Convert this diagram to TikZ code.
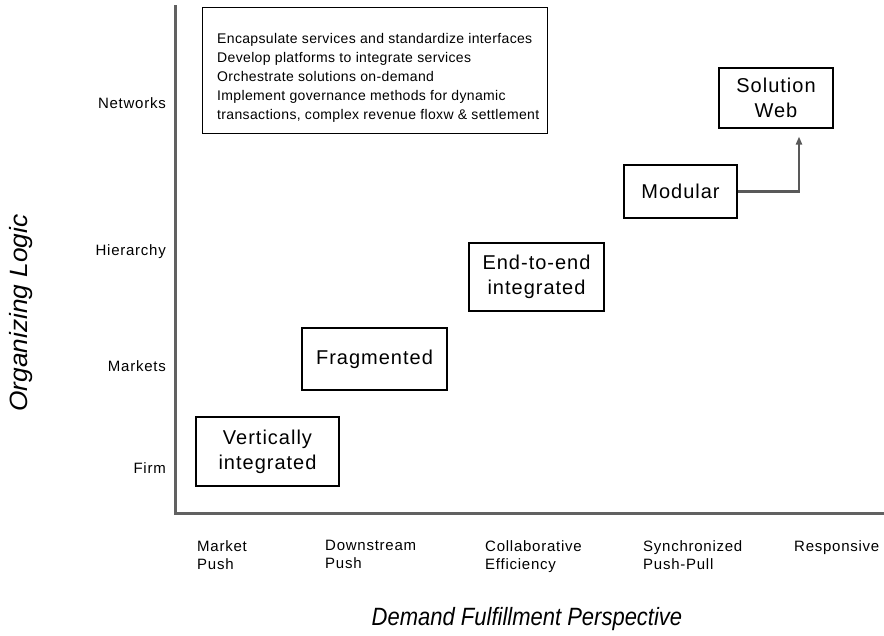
\documentclass[tikz,border=0pt]{standalone}
\usepackage{fontspec}
\setmainfont{Liberation Sans}[LetterSpace=5]
\newfontfamily\titlefont{Liberation Sans}
\newfontfamily\listfont{Liberation Sans}[LetterSpace=2.5]
\usetikzlibrary{arrows.meta, positioning}

\begin{document}
\begin{tikzpicture}[
    x=1pt, y=-1pt,
    stage/.style={rectangle, draw=black, line width=1.1pt, text centered, align=center, font=\fontsize{20}{25}\selectfont},
    tick/.style={inner sep=0pt, font=\fontsize{15}{18}\selectfont},
    xtick/.style={tick, anchor=north west, align=left},
    ytick/.style={tick, anchor=base east},
    axistitle/.style={inner sep=0pt, font=\titlefont\itshape\fontsize{25}{30}\selectfont},
    axis/.style={line width=3pt, draw=black!62},
    arrow/.style={-{Triangle[length=8pt,width=6pt]}, line width=2.5pt, draw=black!65}
]
\useasboundingbox (0,0) rectangle (884,635);

% Axes
\coordinate (top) at (175,5);
\coordinate (origin) at (175,513);
\coordinate (right) at (884,513);
\draw[axis] (top) -- (origin) -- (right);

% Organizing logic (y axis)
\node[ytick] (networks) at (166,108) {Networks};
\node[ytick] (hierarchy) at (166,255) {Hierarchy};
\node[ytick] (markets) at (166,371) {Markets};
\node[ytick] (firm) at (166,473) {Firm};
\node[axistitle, rotate=90] (ylabel) at (21,313) {\scalebox{1.05}[1]{Organizing Logic}};

% Demand fulfillment (x axis)
\node[xtick] (marketpush) at (197,540) {Market\\Push};
\node[xtick] (downstream) at (325,540) {Downstream\\Push};
\node[xtick] (collab) at (485,540) {Collaborative\\Efficiency};
\node[xtick] (sync) at (643,540) {Synchronized\\Push-Pull};
\node[xtick] (responsive) at (794,540) {Responsive};
\node[axistitle, anchor=base] (xlabel) at (527,625) {\scalebox{0.88}[1]{Demand Fulfillment Perspective}};

% Capabilities box
\node[rectangle, draw=black, line width=1.1pt, minimum width=345pt, minimum height=126pt, anchor=north west] (capbox) at (202,7) {};
\node[anchor=north west, align=left, inner sep=0pt, font=\listfont\fontsize{14}{19}\selectfont] (captext) at (217,33)
  {Encapsulate services and standardize interfaces\\
   Develop platforms to integrate services\\
   Orchestrate solutions on-demand\\
   Implement governance methods for dynamic\\
   transactions, complex revenue floxw \& settlement};

% Stages
\node[stage, minimum width=143pt, minimum height=69pt] (vertical) at (267.5,451.5) {Vertically\\integrated};
\node[stage, minimum width=145pt, minimum height=62pt] (fragmented) at (374.5,359) {Fragmented};
\node[stage, minimum width=135pt, minimum height=68pt] (endtoend) at (536.5,277) {End-to-end\\integrated};
\node[stage, minimum width=113pt, minimum height=53pt] (modular) at (680.5,191.5) {Modular};
\node[stage, minimum width=114pt, minimum height=60pt] (solweb) at (776,98) {Solution\\Web};

% Modular to solution web
\draw[arrow, shorten >=8pt] (modular.east) -| ([xshift=23pt]solweb.south);

\end{tikzpicture}
\end{document}
